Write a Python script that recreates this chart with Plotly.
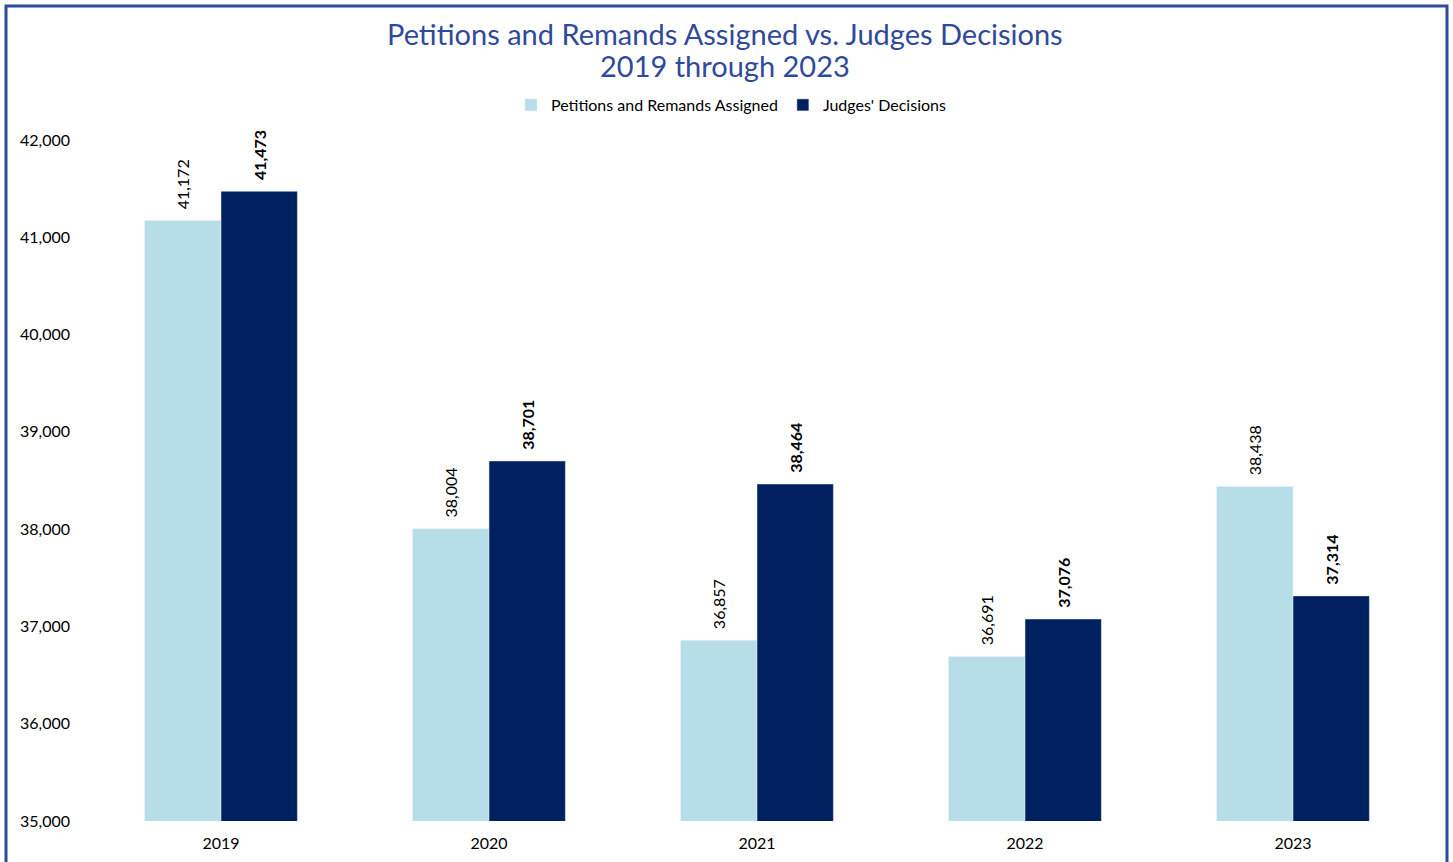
import plotly.graph_objs as go

years = ["2019", "2020", "2021", "2022", "2023"]
assigned = [41172, 38004, 36857, 36691, 38438]
decisions = [41473, 38701, 38464, 37076, 37314]

light = "#B7DEE8"
dark = "#002060"
frame_blue = "#2F4A9C"
pad = "\u00a0\u00a0"  # small gap between bar top and rotated label

fig = go.Figure()
fig.add_trace(go.Bar(
    x=years, y=assigned, name="Petitions and Remands Assigned",
    marker=dict(color=light),
    text=[pad + f"{v:,}" for v in assigned], textposition="outside", textangle=-90,
    textfont=dict(size=16, color="#000000"), cliponaxis=False,
))
fig.add_trace(go.Bar(
    x=years, y=decisions, name="Judges' Decisions",
    marker=dict(color=dark),
    text=[pad + f"<b>{v:,}</b>" for v in decisions], textposition="outside", textangle=-90,
    textfont=dict(size=16, color="#000000"), cliponaxis=False,
))

fig.update_layout(
    width=1453, height=862,
    margin=dict(l=87, r=26, t=140, b=41),
    paper_bgcolor="white", plot_bgcolor="white",
    font=dict(family="Lato, Open Sans, sans-serif", size=16, color="#000000"),
    barmode="group", bargap=0.43, bargroupgap=0,
    showlegend=True,
    legend=dict(orientation="h", x=0.4806, xanchor="center", y=1.0514, yanchor="middle",
                font=dict(size=16), traceorder="normal"),
    xaxis=dict(showgrid=False, showline=False, ticks="", tickfont=dict(size=16),
               ticklabelstandoff=11, automargin=False),
    yaxis=dict(range=[35000, 42000], dtick=1000, tickformat=",", showgrid=False,
               zeroline=False, showline=False, tickfont=dict(size=16), ticklabelstandoff=16,
               automargin=False),
    annotations=[
        dict(text="Petitions and Remands Assigned vs. Judges Decisions", xref="paper", yref="paper",
             x=0.4761, y=1.1557, xanchor="center", yanchor="middle", showarrow=False,
             font=dict(size=29, color=frame_blue)),
        dict(text="2019 through 2023", xref="paper", yref="paper",
             x=0.4761, y=1.1101, xanchor="center", yanchor="middle", showarrow=False,
             font=dict(size=29, color=frame_blue)),
    ],
    shapes=[dict(type="rect", xref="paper", yref="paper",
                 x0=-0.06045, x1=1.01493, y0=-0.2, y1=1.1968,
                 line=dict(color=frame_blue, width=3), layer="below")],
)

fig.write_html("out.html", config={"displayModeBar": False},
               post_script="document.body.style.margin='0px';")
